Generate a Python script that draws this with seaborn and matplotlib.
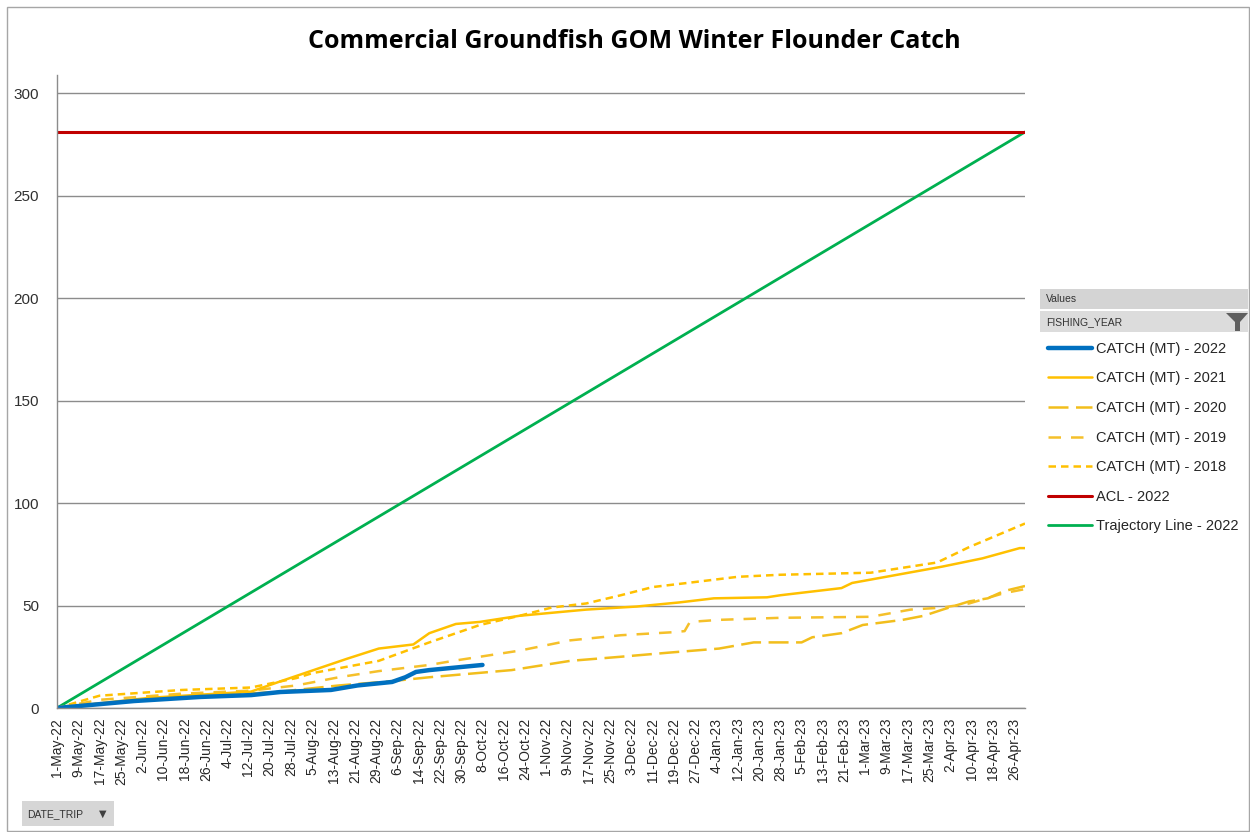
import numpy as np
import pandas as pd
import matplotlib
matplotlib.use("Agg")
import matplotlib.pyplot as plt
from matplotlib.patches import Rectangle, Polygon
import seaborn as sns

sns.set_style("white")
plt.rcParams['font.family'] = ['Liberation Sans', 'DejaVu Sans']

# day index 0 = 1-May-22 ... 364 = 30-Apr-23
n_days = 365
tick_labels = ['1-May-22', '9-May-22', '17-May-22', '25-May-22', '2-Jun-22', '10-Jun-22',
               '18-Jun-22', '26-Jun-22', '4-Jul-22', '12-Jul-22', '20-Jul-22', '28-Jul-22',
               '5-Aug-22', '13-Aug-22', '21-Aug-22', '29-Aug-22', '6-Sep-22', '14-Sep-22',
               '22-Sep-22', '30-Sep-22', '8-Oct-22', '16-Oct-22', '24-Oct-22', '1-Nov-22',
               '9-Nov-22', '17-Nov-22', '25-Nov-22', '3-Dec-22', '11-Dec-22', '19-Dec-22',
               '27-Dec-22', '4-Jan-23', '12-Jan-23', '20-Jan-23', '28-Jan-23', '5-Feb-23',
               '13-Feb-23', '21-Feb-23', '1-Mar-23', '9-Mar-23', '17-Mar-23', '25-Mar-23',
               '2-Apr-23', '10-Apr-23', '18-Apr-23', '26-Apr-23']

# cumulative catch (MT) at selected days
days_2022 = [0, 29, 54, 73, 84, 103, 113, 126, 131, 135, 140, 160]
catch_2022 = [0, 3.4, 5.4, 6.3, 7.8, 8.8, 11, 12.7, 15, 17.6, 18.5, 21]

days_2021 = [0, 35, 73, 84, 109, 121, 134, 140, 150, 159, 174, 199, 218, 234, 247, 267,
             272, 295, 299, 316, 333, 348, 362, 364]
catch_2021 = [0, 5, 8, 13, 24, 29, 31, 36.5, 41, 42, 45, 48, 49.5, 51.5, 53.5, 54,
              55, 58.5, 61, 65, 69, 73, 78, 78]

days_2020 = [0, 30, 60, 84, 106, 125, 140, 171, 193, 212, 230, 249, 262, 280, 284, 295,
             303, 318, 326, 333, 343, 350, 356, 364]
catch_2020 = [0, 4, 6, 8, 11, 13, 15, 18.5, 23, 25, 27, 29, 32, 32, 34.5, 36.5,
              40.5, 43, 45, 48, 52, 53.5, 57, 59.5]

days_2019 = [0, 16, 47, 73, 90, 106, 121, 140, 149, 174, 193, 212, 232, 236, 238, 249,
             272, 306, 321, 333, 343, 356, 364]
catch_2019 = [0, 4, 7, 8.5, 11, 15, 18, 21, 23, 28, 33, 35.5, 37, 37.5, 42, 43,
              44, 44.5, 48, 49, 51, 56, 58]

days_2018 = [0, 16, 47, 73, 90, 96, 121, 140, 159, 174, 186, 199, 212, 224, 237, 256,
             272, 306, 321, 331, 343, 364]
catch_2018 = [0, 6, 8.8, 10, 14.6, 17, 23, 32, 40.5, 45, 49, 51, 55, 59, 61, 64,
              65, 66, 69, 71, 78.5, 90]

acl_days = [0, 364]
acl_2022 = [281, 281]
traj_days = [0, 364]
traj_2022 = [0, 281]

series = [
    ('CATCH (MT) - 2022', days_2022, catch_2022, '#0070C0', 3.2, '-'),
    ('CATCH (MT) - 2021', days_2021, catch_2021, '#FFC000', 1.8, '-'),
    ('CATCH (MT) - 2020', days_2020, catch_2020, '#F2BE1C', 1.8, (0, (8, 3))),
    ('CATCH (MT) - 2019', days_2019, catch_2019, '#F5C02A', 1.8, (0, (5, 4))),
    ('CATCH (MT) - 2018', days_2018, catch_2018, '#FFC000', 1.8, (0, (3, 2))),
    ('ACL - 2022', acl_days, acl_2022, '#C00000', 2.2, '-'),
    ('Trajectory Line - 2022', traj_days, traj_2022, '#00B050', 2.0, '-'),
]

fig = plt.figure(figsize=(12.5, 8.32), dpi=100)
ax = fig.add_axes([57 / 1250, 124 / 832, 968 / 1250, 633 / 832])

# draw in reverse so 2022 sits on top
for name, d, v, c, lw, ls in reversed(series):
    sns.lineplot(x=d, y=v, ax=ax, color=c, linewidth=lw, linestyle=ls, label=name,
                 legend=False)

ax.set_xlim(0, n_days - 1)
ax.set_ylim(0, 308.8)
ax.set_yticks(np.arange(0, 301, 50))
ax.set_yticklabels([str(t) for t in range(0, 301, 50)], fontsize=11, color='#303030')
ax.set_xticks(np.arange(0, n_days, 8))
ax.set_xticklabels(tick_labels, rotation=90, fontsize=10, color='#262626')
ax.set_xticks(np.arange(0, n_days), minor=True)
ax.tick_params(axis='x', which='both', length=4, color='#9a9a9a', width=0.8, pad=3)
ax.tick_params(axis='y', length=6, color='#868686', width=1, pad=7)
ax.grid(axis='y', color='#8c8c8c', linewidth=1)
ax.set_axisbelow(True)
for s in ['top', 'right']:
    ax.spines[s].set_visible(False)
for s in ['left', 'bottom']:
    ax.spines[s].set_color('#8c8c8c')
    ax.spines[s].set_linewidth(1)
ax.set_xlabel('')
ax.set_ylabel('')

fig.text(634 / 1250, 1 - 41 / 832, 'Commercial Groundfish GOM Winter Flounder Catch',
         ha='center', va='center', fontsize=18, fontweight='bold', color='black',
         family=['Open Sans', 'DejaVu Sans'])

# legend panel
handles, labels = ax.get_legend_handles_labels()
order = [l for l, *_ in series]
hmap = dict(zip(labels, handles))
leg = ax.legend([hmap[l] for l in order], order, loc='upper left',
                bbox_to_anchor=(1042 / 1250, 1 - 336 / 832), bbox_transform=fig.transFigure,
                frameon=False, fontsize=10.5, handlelength=3.0, handletextpad=0.3,
                labelspacing=1.07, borderaxespad=0)

fig.patches.append(Rectangle((1040 / 1250, 1 - 309 / 832), 208 / 1250, 20 / 832,
                             transform=fig.transFigure, facecolor='#d4d4d4', edgecolor='none'))
fig.patches.append(Rectangle((1040 / 1250, 1 - 332 / 832), 208 / 1250, 21 / 832,
                             transform=fig.transFigure, facecolor='#dcdcdc', edgecolor='none'))
fig.text(1046 / 1250, 1 - 299 / 832, 'Values', fontsize=7.5, va='center', color='#333333')
fig.text(1046 / 1250, 1 - 322 / 832, 'FISHING_YEAR', fontsize=7.5, va='center', color='#333333')
fig.patches.append(Polygon([(1226 / 1250, 1 - 313 / 832), (1248 / 1250, 1 - 313 / 832),
                            (1240 / 1250, 1 - 322 / 832), (1240 / 1250, 1 - 331 / 832),
                            (1235 / 1250, 1 - 331 / 832), (1235 / 1250, 1 - 322 / 832)],
                           closed=True, transform=fig.transFigure, facecolor='#5f5f5f',
                           edgecolor='none'))

# DATE_TRIP button
fig.patches.append(Rectangle((22 / 1250, 1 - 826 / 832), 92 / 1250, 25 / 832,
                             transform=fig.transFigure, facecolor='#d6d6d6', edgecolor='none'))
fig.text(27 / 1250, 1 - 814 / 832, 'DATE_TRIP', fontsize=7.5, va='center', color='#333333')
fig.text(99 / 1250, 1 - 814 / 832, '\u25BC', fontsize=7, va='center', color='#404040',
         family=['DejaVu Sans'])

# outer chart border
fig.patches.append(Rectangle((7 / 1250, 1 / 832), 1242 / 1250, 824 / 832,
                             transform=fig.transFigure, facecolor='none',
                             edgecolor='#a6a6a6', linewidth=1))

fig.savefig('out.png', dpi=100, facecolor='white')
